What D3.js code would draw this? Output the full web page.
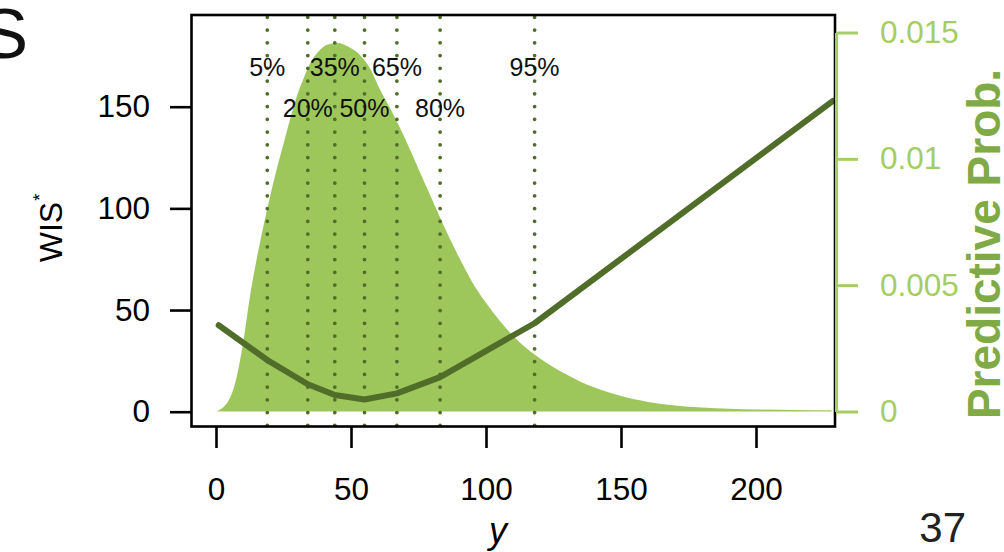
<!DOCTYPE html>
<html>
<head>
<meta charset="utf-8">
<script src="https://cdn.jsdelivr.net/npm/d3@7"></script>
<style>
  html, body { margin: 0; padding: 0; background: #fff; }
  svg { display: block; }
  text { font-family: "Liberation Sans", Arial, Helvetica, sans-serif; }
</style>
</head>
<body>
<svg id="chart" width="1004" height="552"></svg>
<script>
// Predictive density (probability per unit of y)
const densX = [0, 2.5, 5, 7.5, 10, 12.5, 15, 17.5, 20, 22.5, 25, 27.5, 30, 32.5, 35, 37.5, 40, 42.5, 45, 47.5,
               50, 52.5, 55, 57.5, 60, 65, 70, 75, 80, 85, 90, 95, 100, 105, 110, 115, 120, 125, 130, 135,
               140, 145, 150, 160, 170, 180, 190, 200, 215, 228];
const densY = [0, 0.00015, 0.0005, 0.0013, 0.0027, 0.0045, 0.0060, 0.0073, 0.0085, 0.0096, 0.0106, 0.0116, 0.0125, 0.0132, 0.0138, 0.0142, 0.01445, 0.01455, 0.01458, 0.01452,
               0.01438, 0.0142, 0.0139, 0.0135, 0.0129, 0.0119, 0.0108, 0.0096, 0.0084, 0.0072, 0.0061, 0.0051, 0.0043, 0.0036, 0.00300, 0.0025, 0.0021, 0.00175, 0.00145, 0.00118,
               0.00096, 0.00077, 0.00061, 0.00038, 0.00024, 0.00016, 0.00011, 0.00008, 0.00006, 0.00005];

// Weighted interval score as a function of the observed value
const wisX = [1, 19, 34, 44, 55, 67, 83, 118, 228.5];
const wisY = [42.5, 25.4, 13.5, 8.2, 6.0, 9.0, 17.0, 43.5, 152.9];

// Quantiles of the predictive distribution
const quantLabels = ["5%", "20%", "35%", "50%", "65%", "80%", "95%"];
const quantValues = [19, 34, 44, 55, 67, 83, 118];

// Axis ticks
const xTicks = [0, 50, 100, 150, 200];
const yTicks = [0, 50, 100, 150];
const probTicks = [0, 0.005, 0.01, 0.015];
const probTickLabels = ["0", "0.005", "0.01", "0.015"];

const svg = d3.select("#chart");

const box = { left: 191.5, right: 835, top: 15, bottom: 426.5 };

const x = d3.scaleLinear().domain([0, 200]).range([216, 756]);
const yL = d3.scaleLinear().domain([0, 150]).range([411.7, 106.7]);
const yR = d3.scaleLinear().domain([0, 0.015]).range([411.5, 32.5]);

const fillGreen = "#9dc75a";
const axisGreen = "#a4cd63";
const titleGreen = "#80aa45";
const darkGreen = "#516d2a";

svg.append("defs").append("clipPath").attr("id", "plotClip")
  .append("rect")
  .attr("x", box.left).attr("y", box.top)
  .attr("width", box.right - box.left).attr("height", box.bottom - box.top);

const plot = svg.append("g").attr("clip-path", "url(#plotClip)");

// density area
const densData = densX.map((d, i) => [d, densY[i]]);
plot.append("path")
  .datum(densData)
  .attr("fill", fillGreen)
  .attr("d", d3.area()
    .x(d => x(d[0]))
    .y0(yR(0))
    .y1(d => yR(d[1]))
    .curve(d3.curveMonotoneX));

// quantile reference lines (dotted)
plot.selectAll("line.q")
  .data(quantValues)
  .join("line")
  .attr("class", "q")
  .attr("x1", d => x(d)).attr("x2", d => x(d))
  .attr("y1", 425.3).attr("y2", box.top)
  .attr("stroke", darkGreen)
  .attr("stroke-width", 3.8)
  .attr("stroke-linecap", "round")
  .attr("stroke-dasharray", "0 12.75");

// WIS curve
const wisData = wisX.map((d, i) => [d, wisY[i]]);
plot.append("path")
  .datum(wisData)
  .attr("fill", "none")
  .attr("stroke", darkGreen)
  .attr("stroke-width", 6)
  .attr("stroke-linejoin", "round")
  .attr("stroke-linecap", "round")
  .attr("d", d3.line().x(d => x(d[0])).y(d => yL(d[1])));

// quantile labels, alternating between two rows
svg.selectAll("text.ql")
  .data(quantLabels)
  .join("text")
  .attr("class", "ql")
  .attr("x", (d, i) => x(quantValues[i]))
  .attr("y", (d, i) => i % 2 === 0 ? 76 : 116.5)
  .attr("text-anchor", "middle")
  .attr("font-size", 25)
  .attr("fill", "#111")
  .text(d => d);

// frame
svg.append("rect")
  .attr("x", box.left).attr("y", box.top)
  .attr("width", box.right - box.left).attr("height", box.bottom - box.top)
  .attr("fill", "none").attr("stroke", "#000").attr("stroke-width", 2.6);

// left axis
const gL = svg.append("g").attr("transform", `translate(${box.left},0)`)
  .call(d3.axisLeft(yL).tickValues(yTicks).tickSize(21.5).tickPadding(20).tickFormat(d3.format("d")));
gL.select(".domain").remove();
gL.selectAll(".tick line").attr("stroke", "#000").attr("stroke-width", 2.6);
gL.selectAll(".tick text").attr("font-size", 31.5).attr("fill", "#000")
  .attr("font-family", "'Liberation Sans', Arial, sans-serif");

// bottom axis
const gB = svg.append("g").attr("transform", `translate(0,${box.bottom})`)
  .call(d3.axisBottom(x).tickValues(xTicks).tickSize(21.5).tickPadding(30).tickFormat(d3.format("d")));
gB.select(".domain").remove();
gB.selectAll(".tick line").attr("stroke", "#000").attr("stroke-width", 2.6);
gB.selectAll(".tick text").attr("font-size", 31.5).attr("fill", "#000")
  .attr("font-family", "'Liberation Sans', Arial, sans-serif");

// right axis (probability)
const gR = svg.append("g").attr("transform", "translate(836,0)")
  .call(d3.axisRight(yR).tickValues(probTicks).tickSize(22).tickSizeOuter(0).tickPadding(22)
    .tickFormat((d, i) => probTickLabels[i]));
gR.select(".domain").attr("stroke", axisGreen).attr("stroke-width", 3);
gR.selectAll(".tick line").attr("stroke", axisGreen).attr("stroke-width", 3);
gR.selectAll(".tick text").attr("font-size", 31.5).attr("fill", axisGreen)
  .attr("font-family", "'Liberation Sans', Arial, sans-serif");

// axis titles
const wis = svg.append("text")
  .attr("transform", "translate(62,228) rotate(-90)")
  .attr("text-anchor", "middle")
  .attr("font-size", 32)
  .attr("fill", "#000");
wis.append("tspan").text("WIS");
wis.append("tspan").attr("dy", -16).attr("dx", 1).attr("font-size", 18).text("*");

svg.append("text")
  .attr("x", 498).attr("y", 543)
  .attr("text-anchor", "middle")
  .attr("font-family", "'Liberation Serif', 'Times New Roman', serif")
  .attr("font-style", "italic")
  .attr("font-size", 36)
  .attr("fill", "#000")
  .text("y");

svg.append("text")
  .attr("transform", "translate(1000,244) rotate(-90)")
  .attr("text-anchor", "middle")
  .attr("font-size", 46)
  .attr("font-weight", "bold")
  .attr("fill", titleGreen)
  .text("Predictive Prob.");

// slide heading fragment and page number
svg.append("text")
  .attr("x", 28).attr("y", 58)
  .attr("text-anchor", "end")
  .attr("font-size", 71)
  .attr("font-weight", 300)
  .attr("fill", "#111")
  .text("S");

svg.append("text")
  .attr("x", 966).attr("y", 542)
  .attr("text-anchor", "end")
  .attr("font-size", 42)
  .attr("font-weight", 300)
  .attr("fill", "#222")
  .text("37");
</script>
</body>
</html>
